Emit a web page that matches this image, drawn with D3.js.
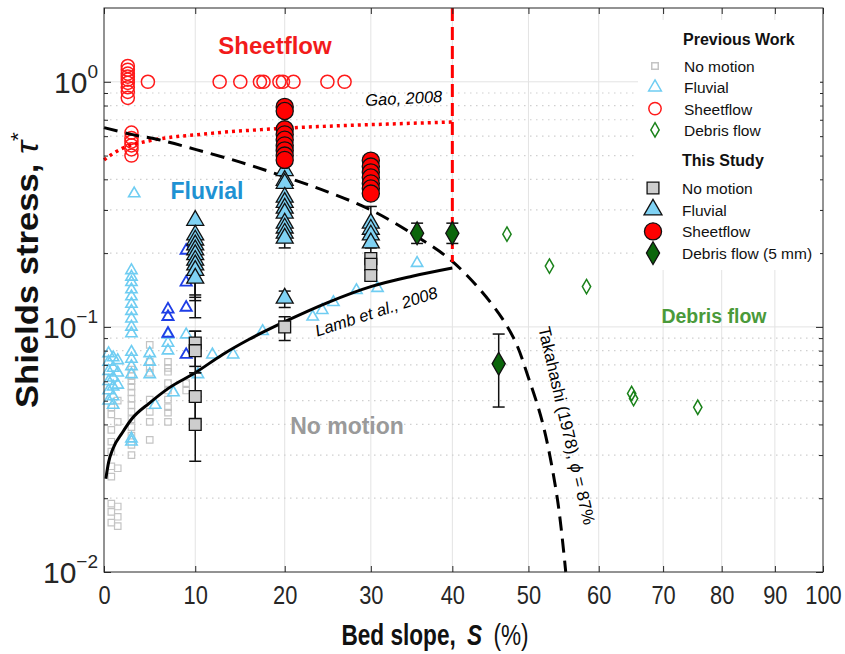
<!DOCTYPE html>
<html lang="en">
  <head>
    <meta charset="UTF-8" />
    <script src="https://d3js.org/d3.v7.min.js"></script>
    <title>Shields stress vs bed slope</title>
    <style>
      body { margin: 0; background: #fff; }
      svg { font-family: "Liberation Sans", Arial, sans-serif; }
    </style>
  </head>
  <body>
    <div id="chart"></div>
    <script>
      // ---- data ----
      var xTicks = [0, 10, 20, 30, 40, 50, 60, 70, 80, 90, 100];
      var yMajor = [0.01, 0.1, 1];
      var yLabels = ["-2", "-1", "0"];

      // previous work: [S (%), tau*]
      var prevNoMotion = [
        [0.8, 0.047], [0.8, 0.044], [0.8, 0.038], [0.8, 0.034], [0.8, 0.031], [0.8, 0.027],
        [0.8, 0.0245], [0.8, 0.019], [0.8, 0.0176], [0.8, 0.0159],
        [1.5, 0.05], [1.5, 0.041], [1.5, 0.0265], [1.5, 0.0185], [1.5, 0.0168], [1.5, 0.0154],
        [3, 0.067], [3, 0.063], [3, 0.06], [3, 0.057], [3, 0.054], [3, 0.051], [3, 0.048],
        [3, 0.045], [3, 0.042], [3, 0.039], [3, 0.036], [3, 0.033], [3, 0.03],
        [5, 0.0845], [5, 0.072], [5, 0.068], [5, 0.065], [5, 0.0505], [5, 0.045], [5, 0.041], [5, 0.0346],
        [7, 0.072], [7, 0.068], [7, 0.0656], [7, 0.059], [7, 0.055], [7, 0.0505], [7, 0.047],
        [7, 0.0447], [7, 0.041],
        [9, 0.059], [9, 0.055]
      ];
      var prevFluvial = [
        [0.5, 0.078], [0.5, 0.072], [0.5, 0.066], [0.5, 0.06], [0.5, 0.055], [0.5, 0.05],
        [1, 0.075], [1, 0.068], [1, 0.062], [1, 0.057], [1, 0.052], [1, 0.048],
        [1.5, 0.073], [1.5, 0.065], [1.5, 0.058],
        [3, 0.17], [3, 0.16], [3, 0.152], [3, 0.142], [3, 0.133], [3, 0.124], [3, 0.116],
        [3, 0.108], [3, 0.1], [3, 0.094], [3, 0.079], [3, 0.074], [3, 0.069], [3, 0.064],
        [3, 0.035], [3, 0.034],
        [3.3, 0.35],
        [5, 0.078], [5, 0.072], [5, 0.064], [5.6, 0.048],
        [7, 0.093], [7, 0.086], [7, 0.08], [7.6, 0.054],
        [9, 0.093], [10.3, 0.064], [11.9, 0.077], [14.2, 0.077],
        [17.5, 0.096], [23.2, 0.11], [24.3, 0.117], [25.6, 0.126], [28.3, 0.141],
        [30.8, 0.144], [35.6, 0.182]
      ];
      var prevFluvialDark = [
        [7, 0.118], [7, 0.11], [7, 0.094],
        [9, 0.205], [9, 0.152], [9, 0.12], [9, 0.077]
      ];
      var prevSheetflow = [
        [2.6, 1.16], [2.6, 1.12], [2.6, 1.08], [2.6, 1.05], [2.6, 1.02], [2.6, 0.99],
        [2.6, 0.95], [2.6, 0.91], [2.6, 0.86],
        [3, 0.62], [3, 0.59], [3, 0.57], [3, 0.55], [3, 0.53], [3, 0.5],
        [4.8, 1], [12.7, 1], [15, 1], [17.2, 1], [17.6, 1], [19.4, 1], [19.8, 1],
        [21, 1], [24.9, 1], [26.9, 1]
      ];
      var prevDebris = [
        [47.1, 0.239], [52.9, 0.177], [58.2, 0.146], [65, 0.0535], [65.3, 0.051], [75.8, 0.047]
      ];

      // this study: [S, tau*, low, high]
      var thisNoMotion = [
        [10, 0.086, 0.069, 0.096], [10, 0.08, 0.065, 0.096], [10, 0.052, 0.041, 0.065],
        [10, 0.04, 0.0283, 0.052],
        [20, 0.1, 0.088, 0.11],
        [30, 0.19, 0.17, 0.21], [30, 0.18], [30, 0.162, 0.155, 0.17]
      ];
      var thisFluvial = [
        [10, 0.272], [10, 0.237, 0.21, 0.26], [10, 0.226], [10, 0.216], [10, 0.206], [10, 0.197],
        [10, 0.187, 0.135, 0.22], [10, 0.179, 0.132, 0.21], [10, 0.17, 0.128, 0.2],
        [10, 0.158, 0.109, 0.19],
        [20, 0.434, 0.39, 0.47], [20, 0.396], [20, 0.385], [20, 0.338], [20, 0.322], [20, 0.305],
        [20, 0.291], [20, 0.265], [20, 0.253], [20, 0.241], [20, 0.23, 0.21, 0.25],
        [20, 0.131, 0.12, 0.14],
        [30, 0.265, 0.245, 0.31], [30, 0.25], [30, 0.237], [30, 0.22]
      ];
      var thisSheetflow = [
        [20, 0.79], [20, 0.76], [20, 0.64], [20, 0.61], [20, 0.58], [20, 0.55], [20, 0.525],
        [20, 0.5], [20, 0.48],
        [30, 0.477], [30, 0.451], [30, 0.427], [30, 0.407], [30, 0.385], [30, 0.367], [30, 0.35]
      ];
      var thisDebris = [
        [35.6, 0.241, 0.219, 0.265], [40, 0.241, 0.219, 0.265], [46, 0.0707, 0.0471, 0.0935]
      ];

      // curves
      var gaoS = [0, 1, 2, 3.2, 4.5, 6.1, 8, 10, 13, 17.3, 22, 27, 32, 36, 40];
      var gaoTau = [0.48, 0.51, 0.535, 0.555, 0.57, 0.585, 0.598, 0.607, 0.622, 0.638, 0.652, 0.663, 0.672, 0.679, 0.685];
      var lambS = [0.2, 0.5, 1, 2, 3, 5, 7, 10, 13, 16, 20, 25, 30, 35, 40];
      var lambTau = [0.024, 0.028, 0.032, 0.037, 0.042, 0.049, 0.056, 0.065, 0.077, 0.089, 0.105, 0.126, 0.146, 0.161, 0.174];
      var takS = [0, 3, 6, 10, 15, 20, 25, 30, 35, 40, 45, 48, 50, 52, 54, 55.2];
      var takTau = [0.65, 0.61, 0.58, 0.53, 0.47, 0.41, 0.355, 0.3, 0.24, 0.185, 0.125, 0.09, 0.062, 0.04, 0.02, 0.01];
      var sheetLimitS = 40, sheetLimitTau = [2, 0.184];

      // ---- layout ----
      var width = 845, height = 654;
      var plotL = 104, plotR = 823, plotT = 8, plotB = 572;

      var svg = d3.select("#chart").append("svg")
        .attr("width", width).attr("height", height);

      // x axis is linear in atan(S/100)
      var xa = d3.scaleLinear().domain([0, Math.PI / 4]).range([plotL, plotR]);
      function x(s) { return xa(Math.atan(s / 100)); }
      var y = d3.scaleLog().domain([0.01, 2]).range([plotB, plotT]);

      var yMinor = [];
      [0.01, 0.1, 1].forEach(function (d) {
        for (var k = 2; k <= 9; k++) if (d * k < 2) yMinor.push(d * k);
      });

      // grid
      var grid = svg.append("g");
      grid.selectAll("line.vg").data(xTicks.slice(1, -1)).enter().append("line")
        .attr("x1", function (d) { return x(d); }).attr("x2", function (d) { return x(d); })
        .attr("y1", plotT).attr("y2", plotB)
        .attr("stroke", "#e3e3e3").attr("stroke-width", 1);
      grid.selectAll("line.hg").data(yMajor.slice(1)).enter().append("line")
        .attr("x1", plotL).attr("x2", plotR)
        .attr("y1", function (d) { return y(d); }).attr("y2", function (d) { return y(d); })
        .attr("stroke", "#e3e3e3").attr("stroke-width", 1);
      grid.selectAll("line.mg").data(yMinor).enter().append("line")
        .attr("x1", plotL).attr("x2", plotR)
        .attr("y1", function (d) { return y(d); }).attr("y2", function (d) { return y(d); })
        .attr("stroke", "#d0d0d0").attr("stroke-width", 1.2)
        .attr("stroke-dasharray", "1.5,4.5");

      // markers
      function sym(type, size) { return d3.symbol().type(type).size(size)(); }

      function scatter(data, type, size, fill, stroke, sw) {
        svg.append("g").selectAll("path").data(data).enter().append("path")
          .attr("d", sym(type, size))
          .attr("transform", function (d) { return "translate(" + x(d[0]) + "," + y(d[1]) + ")"; })
          .attr("fill", fill).attr("stroke", stroke).attr("stroke-width", sw);
      }

      function errbars(data) {
        var g = svg.append("g").attr("stroke", "#111").attr("stroke-width", 1.5);
        data.filter(function (d) { return d[2] != null; }).forEach(function (d) {
          var cx = x(d[0]);
          g.append("line").attr("x1", cx).attr("x2", cx).attr("y1", y(d[2])).attr("y2", y(d[3]));
          g.append("line").attr("x1", cx - 6).attr("x2", cx + 6).attr("y1", y(d[2])).attr("y2", y(d[2]));
          g.append("line").attr("x1", cx - 6).attr("x2", cx + 6).attr("y1", y(d[3])).attr("y2", y(d[3]));
        });
      }

      // previous work
      scatter(prevNoMotion, d3.symbolSquare, 42, "none", "#c4c4c4", 1.2);
      scatter(prevFluvial, d3.symbolTriangle, 55, "none", "#6fcdf2", 1.6);
      scatter(prevFluvialDark, d3.symbolTriangle, 55, "none", "#1e3ee6", 1.8);
      scatter(prevSheetflow, d3.symbolCircle, 135, "none", "#ff1a1a", 1.5);
      scatter(prevDebris, d3.symbolDiamond, 60, "none", "#1a821a", 1.5);

      // curves
      var line = d3.line().x(function (d) { return x(d[0]); }).y(function (d) { return y(d[1]); })
        .curve(d3.curveMonotoneX);
      svg.append("path").datum(d3.zip(gaoS, gaoTau)).attr("d", line)
        .attr("fill", "none").attr("stroke", "#ff0000").attr("stroke-width", 3.5)
        .attr("stroke-dasharray", "3,4");
      svg.append("path").datum(d3.zip(lambS, lambTau)).attr("d", line)
        .attr("fill", "none").attr("stroke", "#000").attr("stroke-width", 3);
      svg.append("path").datum(d3.zip(takS, takTau)).attr("d", d3.line()
          .x(function (d) { return x(d[0]); }).y(function (d) { return y(d[1]); })
          .curve(d3.curveCatmullRom))
        .attr("fill", "none").attr("stroke", "#000").attr("stroke-width", 3)
        .attr("stroke-dasharray", "14,8");
      svg.append("line")
        .attr("x1", x(sheetLimitS)).attr("x2", x(sheetLimitS))
        .attr("y1", y(sheetLimitTau[0])).attr("y2", y(sheetLimitTau[1]))
        .attr("stroke", "#ff0000").attr("stroke-width", 3).attr("stroke-dasharray", "13,6");

      // this study
      errbars(thisNoMotion.concat(thisFluvial, thisDebris));
      scatter(thisNoMotion, d3.symbolSquare, 140, "#cdcdcd", "#111", 1.3);
      scatter(thisFluvial, d3.symbolTriangle, 125, "#7fd2f4", "#111", 1.3);
      scatter(thisSheetflow, d3.symbolCircle, 230, "#ff0000", "#111", 1.3);
      scatter(thisDebris, d3.symbolDiamond, 150, "#0b660b", "#111", 1.3);

      // region labels
      var labels = svg.append("g").attr("font-weight", "bold");
      labels.append("text").attr("x", 275).attr("y", 54).attr("text-anchor", "middle")
        .attr("font-size", 24).attr("fill", "#f21b1b").text("Sheetflow");
      labels.append("text").attr("x", 207).attr("y", 199).attr("text-anchor", "middle")
        .attr("font-size", 23).attr("fill", "#1f92d3").text("Fluvial");
      labels.append("text").attr("x", 347).attr("y", 434).attr("text-anchor", "middle")
        .attr("font-size", 23).attr("fill", "#9a9a9a").text("No motion");
      labels.append("text").attr("x", 714).attr("y", 323).attr("text-anchor", "middle")
        .attr("font-size", 19.5).attr("fill", "#4a9a3a").text("Debris flow");

      // curve labels
      svg.append("text").attr("transform", "translate(404,104) rotate(-3)")
        .attr("text-anchor", "middle").attr("font-size", 16.5).attr("font-style", "italic")
        .text("Gao, 2008");
      svg.append("text").attr("transform", "translate(378,317) rotate(-18)")
        .attr("text-anchor", "middle").attr("font-size", 16.5).attr("font-style", "italic")
        .text("Lamb et al., 2008");
      var tk = svg.append("text").attr("transform", "translate(561,427) rotate(77)")
        .attr("text-anchor", "middle").attr("font-size", 17);
      tk.append("tspan").text("Takahashi (1978), ");
      tk.append("tspan").attr("font-style", "italic").text("\u03d5");
      tk.append("tspan").text(" = 87%");

      // axes box
      var axisColor = "#262626";
      svg.append("rect").attr("x", plotL).attr("y", plotT)
        .attr("width", plotR - plotL).attr("height", plotB - plotT)
        .attr("fill", "none").attr("stroke", axisColor).attr("stroke-width", 1);

      var xTickVals = xTicks.map(function (s) { return Math.atan(s / 100); });
      var xAxis = svg.append("g").attr("transform", "translate(0," + plotB + ")")
        .call(d3.axisBottom(xa).tickValues(xTickVals).tickSize(-6).tickPadding(14)
          .tickFormat(function (d, i) { return xTicks[i]; }));
      xAxis.select(".domain").remove();
      xAxis.selectAll("line").attr("stroke", axisColor);
      // condensed look of the original tick labels
      xAxis.selectAll("text").attr("font-size", 26).attr("fill", axisColor)
        .attr("font-family", "Liberation Sans, Arial, sans-serif")
        .attr("transform", "scale(0.84,1)");
      var xTop = svg.append("g").attr("transform", "translate(0," + plotT + ")")
        .call(d3.axisTop(xa).tickValues(xTickVals).tickSize(-6).tickFormat(""));
      xTop.select(".domain").remove();
      xTop.selectAll("line").attr("stroke", axisColor);

      [d3.axisLeft(y), d3.axisRight(y)].forEach(function (ax, k) {
        var g = svg.append("g").attr("transform", "translate(" + (k ? plotR : plotL) + ",0)");
        g.call(ax.tickValues(yMajor).tickSize(-7).tickFormat(""));
        g.select(".domain").remove();
        g.selectAll("line").attr("stroke", axisColor);
        var gm = svg.append("g").attr("transform", "translate(" + (k ? plotR : plotL) + ",0)");
        gm.call((k ? d3.axisRight(y) : d3.axisLeft(y)).tickValues(yMinor).tickSize(-4).tickFormat(""));
        gm.select(".domain").remove();
        gm.selectAll("line").attr("stroke", axisColor);
      });

      var yl = svg.append("g").attr("fill", axisColor);
      yMajor.forEach(function (d, i) {
        var t = yl.append("text").attr("x", 98).attr("y", y(d) + 11).attr("text-anchor", "end")
          .attr("font-size", 30);
        t.append("tspan").text("10");
        t.append("tspan").attr("dy", -15).attr("font-size", 19).text(yLabels[i].replace("-", "\u2212"));
      });

      // axis titles
      var xt = svg.append("text").attr("transform", "translate(435,645) scale(0.78,1)")
        .attr("text-anchor", "middle").attr("font-size", 29).attr("fill", "#111");
      xt.append("tspan").attr("font-weight", "bold").text("Bed slope,\u2002");
      xt.append("tspan").attr("font-weight", "bold").attr("font-style", "italic").text("S");
      xt.append("tspan").text("\u2002(%)");

      var yt = svg.append("text").attr("transform", "translate(38,270) rotate(-90)")
        .attr("text-anchor", "middle").attr("font-size", 31).attr("font-weight", "bold")
        .attr("fill", "#111")
        .attr("textLength", 276).attr("lengthAdjust", "spacingAndGlyphs");
      yt.append("tspan").text("Shields stress, ");
      yt.append("tspan").attr("font-style", "italic").attr("font-weight", "normal").text("\u03c4");
      yt.append("tspan").attr("dy", -13).attr("font-size", 21).attr("font-weight", "normal").text("*");

      // legend
      var lg = svg.append("g");
      lg.append("rect").attr("x", 638).attr("y", 20).attr("width", 182).attr("height", 250)
        .attr("fill", "#fff");
      lg.append("text").attr("x", 683).attr("y", 45).attr("font-size", 16)
        .attr("font-weight", "bold").attr("fill", "#111").text("Previous Work");
      lg.append("text").attr("x", 682).attr("y", 166).attr("font-size", 16)
        .attr("font-weight", "bold").attr("fill", "#111").text("This Study");

      var legPrev = [
        { name: "No motion", type: d3.symbolSquare, size: 42, fill: "none", stroke: "#c4c4c4" },
        { name: "Fluvial", type: d3.symbolTriangle, size: 70, fill: "none", stroke: "#6fcdf2" },
        { name: "Sheetflow", type: d3.symbolCircle, size: 120, fill: "none", stroke: "#ff1a1a" },
        { name: "Debris flow", type: d3.symbolDiamond, size: 60, fill: "none", stroke: "#1a821a" }
      ];
      var legThis = [
        { name: "No motion", type: d3.symbolSquare, size: 140, fill: "#cdcdcd", stroke: "#111" },
        { name: "Fluvial", type: d3.symbolTriangle, size: 140, fill: "#7fd2f4", stroke: "#111" },
        { name: "Sheetflow", type: d3.symbolCircle, size: 230, fill: "#ff0000", stroke: "#111" },
        { name: "Debris flow (5 mm)", type: d3.symbolDiamond, size: 150, fill: "#0b660b", stroke: "#111" }
      ];
      legPrev.forEach(function (d, i) {
        var cy = 66 + i * 21.3;
        lg.append("path").attr("d", sym(d.type, d.size))
          .attr("transform", "translate(655," + cy + ")")
          .attr("fill", d.fill).attr("stroke", d.stroke).attr("stroke-width", 1.5);
        lg.append("text").attr("x", 684).attr("y", cy + 6).attr("font-size", 15.5)
          .attr("fill", "#111").text(d.name);
      });
      legThis.forEach(function (d, i) {
        var cy = 188 + i * 21.7;
        lg.append("path").attr("d", sym(d.type, d.size))
          .attr("transform", "translate(653," + cy + ")")
          .attr("fill", d.fill).attr("stroke", d.stroke).attr("stroke-width", 1.3);
        lg.append("text").attr("x", 682).attr("y", cy + 6).attr("font-size", 15.5)
          .attr("fill", "#111").text(d.name);
      });
    </script>
  </body>
</html>
